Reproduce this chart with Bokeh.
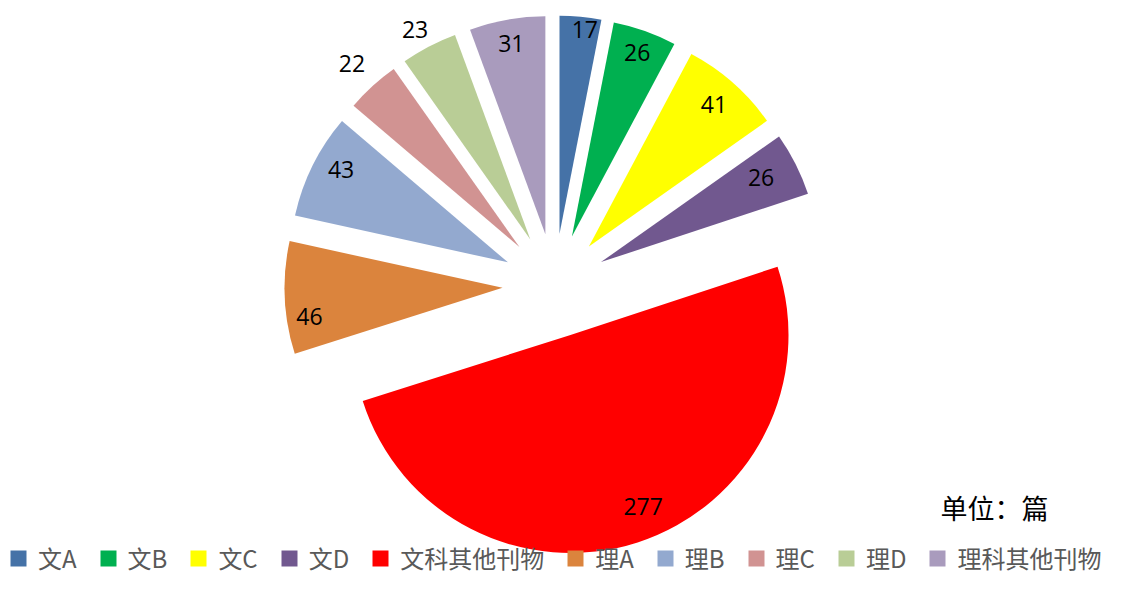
import math
from bokeh.plotting import figure
from bokeh.models import ColumnDataSource, Range1d, Legend, LegendItem, Label
from bokeh.core.properties import value
from bokeh.embed import file_html
from bokeh.resources import INLINE

# ---- data ----
categories = ["文A", "文B", "文C", "文D", "文科其他刊物", "理A", "理B", "理C", "理D", "理科其他刊物"]
counts = [17, 26, 41, 26, 277, 46, 43, 22, 23, 31]
colors = ["#4572A7", "#00B050", "#FFFF00", "#71588F", "#FF0000",
          "#DB843D", "#93A9CF", "#D19392", "#B9CD96", "#A99BBD"]
# label distance (fraction of radius) and angular shift (deg) for each slice label
label_frac = [0.945, 0.895, 0.867, 0.83, 0.855, 0.895, 0.876, 1.14, 1.10, 0.89]
label_shift = [1.5, 0, 0, -1, -5, -5.7, 2.7, 0, -1, 0]
unit_text = "单位：篇"

# ---- layout ----
W, H = 1109, 576
CX, CY = 554, -285      # pie centre (y measured upward, negative = down)
R = 218
EXPLODE = 52

total = sum(counts)
xs, ys, starts, ends, lx, ly, labels = [], [], [], [], [], [], []
cum = 0
for i, c in enumerate(counts):
    t1 = cum / total * 360.0
    cum += c
    t2 = cum / total * 360.0
    tm = (t1 + t2) / 2
    rad = math.radians(tm)
    cx = CX + EXPLODE * math.sin(rad)
    cy = CY + EXPLODE * math.cos(rad)
    xs.append(cx)
    ys.append(cy)
    starts.append(math.radians(90 - t2))
    ends.append(math.radians(90 - t1))
    lr = math.radians(tm + label_shift[i])
    lx.append(cx + R * label_frac[i] * math.sin(lr))
    ly.append(cy + R * label_frac[i] * math.cos(lr))
    labels.append(str(c))

src = ColumnDataSource(dict(x=xs, y=ys, start=starts, end=ends, color=colors,
                            cat=categories, lx=lx, ly=ly, lab=labels))

p = figure(width=W, height=H, output_backend="svg", toolbar_location=None,
           x_axis_location=None, y_axis_location=None, min_border=0,
           x_range=Range1d(0, W), y_range=Range1d(-H, 0),
           outline_line_color=None, background_fill_color="white",
           border_fill_color="white")
p.grid.visible = False

r = p.wedge(x="x", y="y", radius=R, start_angle="start", end_angle="end",
            fill_color="color", line_color=None, source=src)

p.text(x="lx", y="ly", text="lab", source=src, text_align="center",
       text_baseline="middle", text_font=value("Open Sans"),
       text_font_size="23px", text_color="black")

unit = Label(x=940, y=-507, text=unit_text, text_align="left", text_baseline="middle",
             text_font="Noto Sans CJK SC", text_font_size="27px", text_color="black")
p.add_layout(unit)

items = [LegendItem(label=categories[i], renderers=[r], index=i) for i in range(len(categories))]
legend = Legend(items=items, orientation="horizontal", location=(8, 1),
                glyph_width=20, glyph_height=20, label_standoff=10, spacing=21,
                padding=0, margin=0, border_line_color=None, background_fill_alpha=0,
                label_text_font="Noto Sans CJK SC", label_text_font_size="24px",
                label_text_color="#595959")
p.add_layout(legend)

open("out.html", "w").write(file_html(p, INLINE))
